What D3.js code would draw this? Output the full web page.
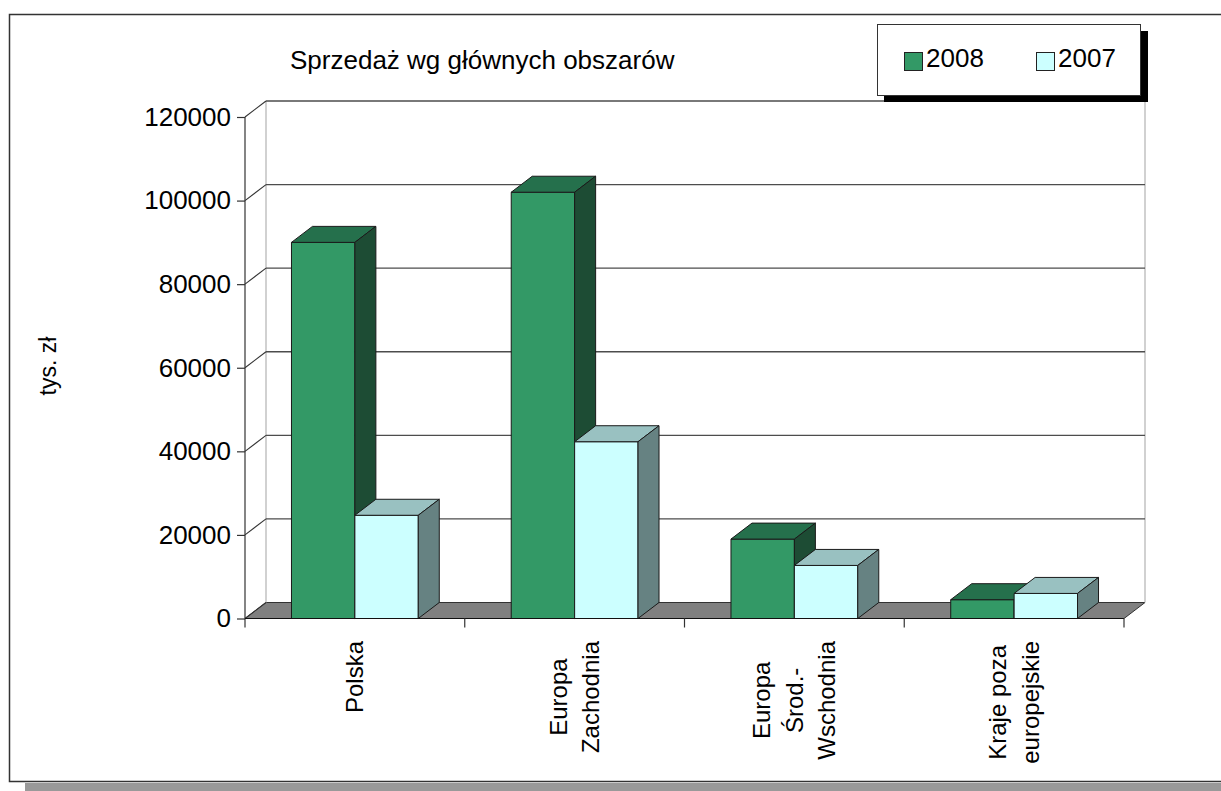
<!DOCTYPE html>
<html>
<head>
<meta charset="utf-8">
<script src="https://cdn.jsdelivr.net/npm/d3@7"></script>
<style>
  html, body { margin: 0; padding: 0; background: #fff; }
  svg { display: block; font-family: "Liberation Sans", Arial, sans-serif; }
</style>
</head>
<body>
<svg id="chart" width="1221" height="791"></svg>
<script>
// Sales by main regions, thousands of PLN
const categories = ["Polska", "Europa\nZachodnia", "Europa\nŚrod.-\nWschodnia", "Kraje poza\neuropejskie"];
const seriesNames = ["2008", "2007"];
const values2008 = [90000, 102000, 19000, 4500];
const values2007 = [24700, 42300, 12700, 6000];
const yTicks = [0, 20000, 40000, 60000, 80000, 100000, 120000];

const seriesColors = [
  { front: "#339966", top: "#25704c", side: "#1d4c34" },
  { front: "#ccffff", top: "#99c1c1", side: "#668282" }
];
const seriesValues = [values2008, values2007];

const svg = d3.select("#chart");
const W = 1221, H = 791;

// plot geometry (front plane) and depth offset of the 3D walls
const left = 245, right = 1124, base = 618.5, topY = 117;
const dx = 21, dy = -16;

const y = d3.scaleLinear().domain([0, 120000]).range([base, topY]);
const x0 = d3.scaleBand().domain(categories).range([left, right]).padding(0);
const x1 = d3.scaleBand().domain(seriesNames)
  .range([x0.bandwidth() * 0.2115, x0.bandwidth() * 0.7885]).padding(0);

// page frame with drop shadow
svg.append("rect").attr("x", 25).attr("y", 783).attr("width", W).attr("height", 10).attr("fill", "#999");
svg.append("rect").attr("x", 9.5).attr("y", 14.5).attr("width", W + 20).attr("height", 767)
  .attr("fill", "#fff").attr("stroke", "#333").attr("stroke-width", 1.5);

// floor
const floor = svg.append("g");
floor.append("polygon")
  .attr("points", [[left, base], [right, base], [right + dx, base + dy], [left + dx, base + dy]].map(p => p.join(",")).join(" "))
  .attr("fill", "#808080").attr("stroke", "#333").attr("stroke-width", 1);

// back wall edges
const walls = svg.append("g");
walls.append("line").attr("x1", left + dx).attr("x2", left + dx)
  .attr("y1", y(120000) + dy).attr("y2", base + dy).attr("stroke", "#b3b3b3").attr("stroke-width", 1.2);
walls.append("line").attr("x1", right + dx).attr("x2", right + dx)
  .attr("y1", y(120000) + dy).attr("y2", base + dy).attr("stroke", "#b3b3b3").attr("stroke-width", 1.2);

// gridlines: side wall diagonal plus back wall horizontal
yTicks.filter(t => t > 0).forEach(t => {
  const yy = y(t);
  walls.append("line").attr("x1", left).attr("y1", yy).attr("x2", left + dx).attr("y2", yy + dy)
    .attr("stroke", "#333").attr("stroke-width", 1.1);
  walls.append("line").attr("x1", left + dx).attr("y1", yy + dy).attr("x2", right + dx).attr("y2", yy + dy)
    .attr("stroke", "#4d4d4d").attr("stroke-width", 1.3);
});
walls.append("line").attr("x1", left).attr("y1", base).attr("x2", left + dx).attr("y2", base + dy)
  .attr("stroke", "#333").attr("stroke-width", 1.1);

// bars
const bars = svg.append("g");
categories.forEach((c, ci) => {
  seriesNames.forEach((s, si) => {
    const v = seriesValues[si][ci];
    const col = seriesColors[si];
    const xa = x0(c) + x1(s), xb = xa + x1.bandwidth();
    const yv = y(v), yb = y(0);
    const g = bars.append("g").attr("stroke", "#1a1a1a").attr("stroke-width", 1).attr("stroke-linejoin", "round");
    g.append("rect").attr("x", xa).attr("y", yv).attr("width", xb - xa).attr("height", yb - yv).attr("fill", col.front);
    g.append("polygon").attr("fill", col.top)
      .attr("points", [[xa, yv], [xa + dx, yv + dy], [xb + dx, yv + dy], [xb, yv]].map(p => p.join(",")).join(" "));
    g.append("polygon").attr("fill", col.side)
      .attr("points", [[xb, yv], [xb + dx, yv + dy], [xb + dx, yb + dy], [xb, yb]].map(p => p.join(",")).join(" "));
  });
});

// y axis
const yAxis = svg.append("g").attr("transform", `translate(${left},0)`)
  .call(d3.axisLeft(y).tickValues(yTicks).tickSize(8).tickPadding(6).tickFormat(d => String(d)));
yAxis.select(".domain").attr("stroke", "#333").attr("stroke-width", 1.2).attr("d", `M0,${topY}V${base + 9}`);
yAxis.selectAll(".tick line").attr("stroke", "#333").attr("stroke-width", 1.2);
yAxis.selectAll(".tick text").attr("font-size", 26).attr("fill", "#000")
  .attr("font-family", "Liberation Sans, Arial, sans-serif");

// x axis line and category ticks
const xAxisG = svg.append("g");
xAxisG.append("line").attr("x1", left).attr("x2", right).attr("y1", base).attr("y2", base)
  .attr("stroke", "#111").attr("stroke-width", 1.2);
categories.forEach((c, i) => {
  const xx = x0(c) + x0.bandwidth();
  xAxisG.append("line").attr("x1", xx).attr("x2", xx).attr("y1", base).attr("y2", base + 9)
    .attr("stroke", "#333").attr("stroke-width", 1.2);
});

// category labels, rotated, lines centred on each other
const lineH = 32.5;
categories.forEach(c => {
  const lines = c.split("\n");
  const cx = x0(c) + x0.bandwidth() / 2;
  const t = svg.append("text")
    .attr("transform", `translate(${cx},641) rotate(-90)`)
    .attr("font-size", 24).attr("fill", "#000").attr("text-anchor", "middle");
  const spans = lines.map((ln, i) => t.append("tspan")
    .attr("x", 0).attr("y", (i - (lines.length - 1) / 2) * lineH).attr("dy", "0.35em").text(ln));
  const maxLen = d3.max(spans, sp => sp.node().getComputedTextLength());
  spans.forEach(sp => sp.attr("x", -maxLen / 2));
});

// axis title
svg.append("text").attr("transform", "translate(48,366) rotate(-90)")
  .attr("text-anchor", "middle").attr("dy", "0.35em")
  .attr("font-size", 23).attr("fill", "#000").text("tys. zł");

// chart title
svg.append("text").attr("x", 290).attr("y", 69).attr("font-size", 26).attr("fill", "#000")
  .text("Sprzedaż wg głównych obszarów");

// legend with hard drop shadow
const lg = svg.append("g");
lg.append("rect").attr("x", 884).attr("y", 31).attr("width", 264).attr("height", 71).attr("fill", "#000");
lg.append("rect").attr("x", 877.5).attr("y", 24.5).attr("width", 263).attr("height", 71)
  .attr("fill", "#fff").attr("stroke", "#333").attr("stroke-width", 1);
const legendX = [904, 1036];
seriesNames.forEach((s, i) => {
  lg.append("rect").attr("x", legendX[i] + 0.5).attr("y", 52.5).attr("width", 18).attr("height", 18)
    .attr("fill", seriesColors[i].front).attr("stroke", "#222").attr("stroke-width", 1);
  lg.append("text").attr("x", legendX[i] + 22).attr("y", 67).attr("font-size", 26).attr("fill", "#000").text(s);
});
</script>
</body>
</html>
